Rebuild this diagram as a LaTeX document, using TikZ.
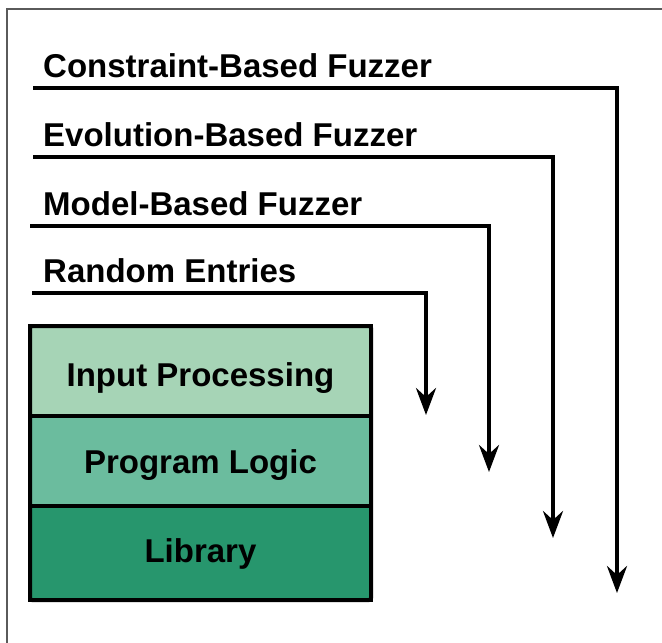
\documentclass[tikz,border=0pt]{standalone}
\usepackage{fontspec}
\setmainfont{Liberation Sans}
\usetikzlibrary{arrows.meta}
\definecolor{rowA}{HTML}{A6D4B6}
\definecolor{rowB}{HTML}{6BBC9E}
\definecolor{rowC}{HTML}{27966D}
\definecolor{framegray}{HTML}{5A5A5A}
\begin{document}
\begin{tikzpicture}[x=1pt,y=-1pt,
  lbl/.style={anchor=base west, inner sep=0pt, font=\fontsize{33}{36}\selectfont\bfseries},
  rowbox/.style={draw=black, line width=4pt, minimum width=341pt, minimum height=90pt, inner sep=0pt, outer sep=0pt, anchor=north west,
     font=\fontsize{33}{36}\selectfont\bfseries},
  feed/.style={line width=4pt, -{Stealth[length=27pt, width=20pt, inset=9pt]}}
]
\useasboundingbox (0,0) rectangle (662,643);
\draw[framegray, line width=1.5pt] (662,9) -- (7,9) -- (7,643);

% labels
\node[lbl] (cb) at (43,77) {Constraint-Based Fuzzer};
\node[lbl] (eb) at (43,146) {Evolution-Based Fuzzer};
\node[lbl] (mb) at (43,215) {Model-Based Fuzzer};
\node[lbl] (re) at (43,282) {Random Entries};

% line starts and arrow tips
\coordinate (cbs) at (33,88);  \coordinate (cbt) at (617,593);
\coordinate (ebs) at (33,157); \coordinate (ebt) at (553,538);
\coordinate (mbs) at (30,226); \coordinate (mbt) at (489,472);
\coordinate (res) at (32,293); \coordinate (ret) at (426,415);

\draw[feed] (cbs) -| (cbt);
\draw[feed] (ebs) -| (ebt);
\draw[feed] (mbs) -| (mbt);
\draw[feed] (res) -| (ret);

% stacked box
\node[rowbox, fill=rowA, text height=34pt, text depth=4pt] (ip) at (30,326) {Input Processing};
\node[rowbox, fill=rowB, text height=29pt, text depth=5pt, anchor=north] (pl) at (ip.south) {Program Logic};
\node[rowbox, fill=rowC, text height=25pt, text depth=6pt, anchor=north, minimum height=94pt] (lib) at (pl.south) {Library};
\draw[line width=4pt, rounded corners=2pt] (ip.north west) rectangle (lib.south east);
\end{tikzpicture}
\end{document}
